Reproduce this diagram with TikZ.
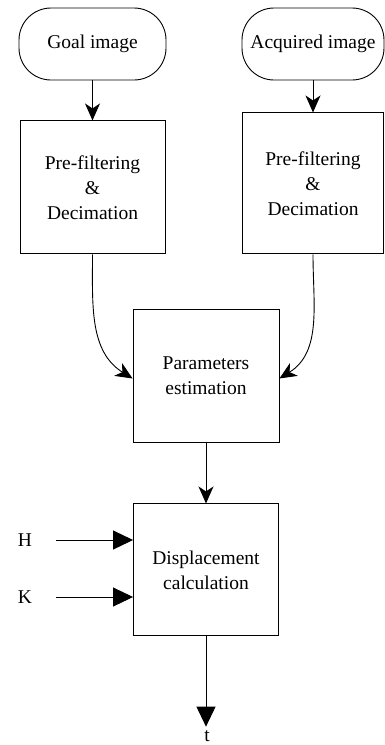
\documentclass[tikz,border=0pt]{standalone}
\usepackage{fontspec}
\setmainfont{Liberation Serif}
\usetikzlibrary{positioning,arrows.meta}

\begin{document}
\begin{tikzpicture}
    [x=1pt, y=-1pt,
    line width=0.9pt,
    font=\fontsize{19.5}{25}\selectfont,
    terminal/.style={draw, rounded corners=32pt, minimum height=72pt, inner sep=2pt},
    block/.style={draw, align=center, minimum width=145pt, minimum height=133pt, inner sep=2pt},
    ->-/.style={-{Stealth[length=17pt, width=15pt, inset=5pt]}},
    ->>-/.style={-{Triangle[length=20pt, width=19pt]}}]
        \useasboundingbox (0,0) rectangle (385,745);

        %% inputs
        \node[terminal, minimum width=147pt] (goal) at (92.5,44) {Goal image};
        \node[terminal, minimum width=142pt] (acq) at (313,44) {Acquired image};

        %% filtering
        \node[block, below=40pt of goal] (pre1) {Pre-filtering\\\&\\Decimation};
        \node[block, below=32pt of acq, minimum width=141pt, minimum height=141pt] (pre2) {Pre-filtering\\\&\\Decimation};

        %% estimation and displacement
        \node[block, minimum width=146pt] (param) at (206,375.5) {Parameters\\estimation};
        \node[block, below=61pt of param, minimum height=132pt] (disp) {Displacement\\calculation};

        \node (H) at (25,540) {H};
        \node (K) at (25,597) {K};
        \node (t) at (207,736) {t};

        \draw[->-] (goal) to (pre1);
        \draw[->-] (acq) to (pre2);
        \draw[->-] (pre1.south) to[out=-90, in=148] ([yshift=-3pt]param.west);
        \draw[->-] (pre2.south) to[out=-90, in=32] ([yshift=-3pt]param.east);
        \draw[->-] (param) to (disp);
        \draw[->>-, shorten <=20pt] (H) to (H -| disp.west);
        \draw[->>-, shorten <=20pt] (K) to (K -| disp.west);
        \draw[->>-] (disp.south) to (disp.south |- t.north);
    \end{tikzpicture}
\end{document}
